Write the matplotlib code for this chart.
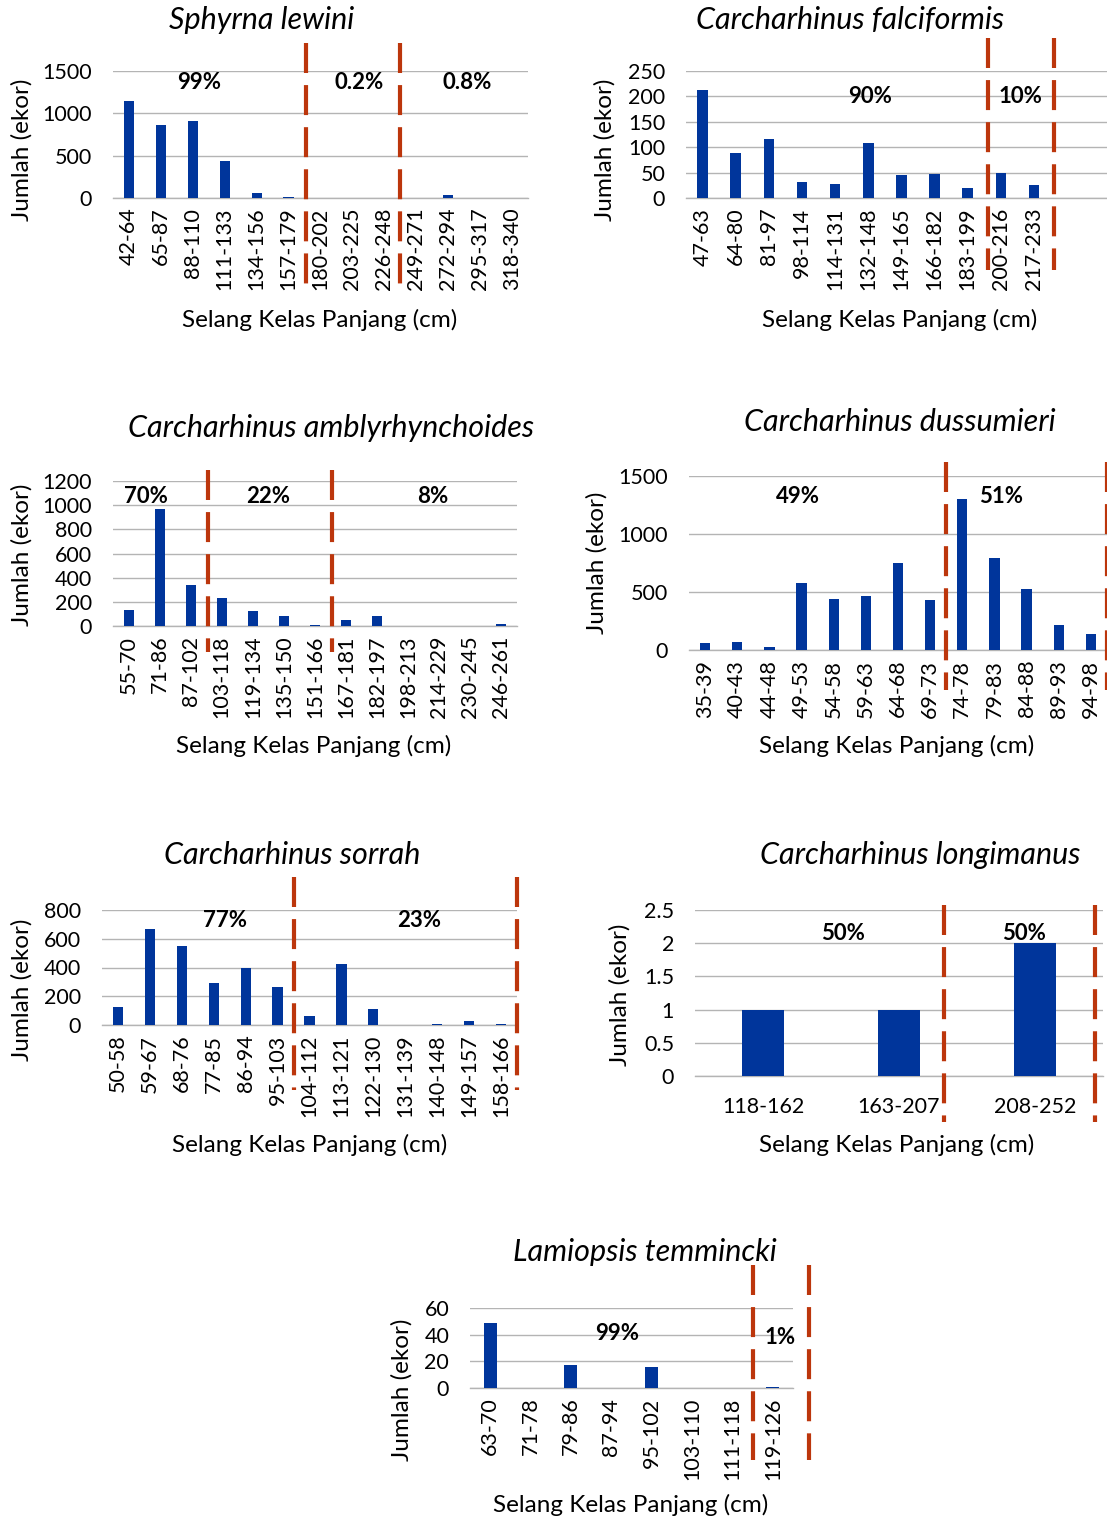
"""
Distribusi selang kelas panjang hiu (7 spesies)
"""

import numpy as np
import matplotlib
matplotlib.use('Agg')
import matplotlib.pyplot as plt
import matplotlib.transforms as mtransforms

plt.rcParams['font.family'] = ['Lato', 'DejaVu Sans']

# --- data ---------------------------------------------------------------
lewini_cls = ['42-64', '65-87', '88-110', '111-133', '134-156', '157-179', '180-202',
              '203-225', '226-248', '249-271', '272-294', '295-317', '318-340']
lewini_n = [1140, 865, 915, 437, 60, 12, 3, 2, 0, 0, 32, 0, 2]

falci_cls = ['47-63', '64-80', '81-97', '98-114', '114-131', '132-148', '149-165',
             '166-182', '183-199', '200-216', '217-233']
falci_n = [212, 89, 116, 31, 28, 108, 45, 48, 19, 50, 25]

ambly_cls = ['55-70', '71-86', '87-102', '103-118', '119-134', '135-150', '151-166',
             '167-181', '182-197', '198-213', '214-229', '230-245', '246-261']
ambly_n = [130, 972, 339, 233, 122, 80, 11, 47, 80, 0, 0, 0, 19]

duss_cls = ['35-39', '40-43', '44-48', '49-53', '54-58', '59-63', '64-68',
            '69-73', '74-78', '79-83', '84-88', '89-93', '94-98']
duss_n = [57, 66, 29, 577, 437, 463, 751, 429, 1306, 797, 526, 217, 140]

sorrah_cls = ['50-58', '59-67', '68-76', '77-85', '86-94', '95-103', '104-112',
              '113-121', '122-130', '131-139', '140-148', '149-157', '158-166']
sorrah_n = [124, 665, 548, 292, 399, 264, 65, 427, 112, 0, 5, 30, 5]

longi_cls = ['118-162', '163-207', '208-252']
longi_n = [1, 1, 2]

lamio_cls = ['63-70', '71-78', '79-86', '87-94', '95-102', '103-110', '111-118', '119-126']
lamio_n = [49, 0, 17, 0, 16, 0, 0, 0.7]

# persentase tiap kelompok
lewini_pct = ['99%', '0.2%', '0.8%']
falci_pct = ['90%', '10%']
ambly_pct = ['70%', '22%', '8%']
duss_pct = ['49%', '51%']
sorrah_pct = ['77%', '23%']
longi_pct = ['50%', '50%']
lamio_pct = ['99%', '1%']

# --- layout (piksel) ----------------------------------------------------
W, H = 1107, 1519
BAR = '#00359B'
RED = '#BC360C'
GRID = '#B4B4B4'

fig = plt.figure(figsize=(W / 100, H / 100), dpi=100)


def px_axes(left, top, right, bottom):
    return fig.add_axes([left / W, 1 - bottom / H, (right - left) / W, (bottom - top) / H])


def ftext(x, y, s, **kw):
    fig.text(x / W, 1 - y / H, s, ha='center', va='center', **kw)


def panel(box, cls, vals, yticks, ymax, xlim, title, title_xy, xlab_xy, ylab_xy,
          cuts, cut_span, pcts, pct_xy, width=0.32, rot=90):
    ax = px_axes(*box)
    x = np.arange(len(cls))
    ax.bar(x, vals, width=width, color=BAR, zorder=3)
    ax.set_xlim(*xlim)
    ax.set_ylim(0, ymax)
    ax.set_yticks(yticks)
    ax.set_yticklabels([('%g' % t) for t in yticks])
    ax.set_xticks(x)
    ax.set_xticklabels(cls, rotation=rot)
    ax.tick_params(axis='y', length=0, pad=15, labelsize=15.5)
    ax.tick_params(axis='x', length=0, pad=7 if rot else 15, labelsize=15.5)
    for s in ['top', 'right', 'left']:
        ax.spines[s].set_visible(False)
    ax.spines['bottom'].set_color(GRID)
    ax.spines['bottom'].set_linewidth(1.0)
    ax.grid(axis='y', color=GRID, linewidth=1.0, zorder=0)
    ax.set_axisbelow(True)

    # garis putus-putus pembatas kelompok
    top, bottom = box[1], box[3]
    y0 = (bottom - cut_span[1]) / (bottom - top)
    y1 = (bottom - cut_span[0]) / (bottom - top)
    trans = mtransforms.blended_transform_factory(ax.transData, ax.transAxes)
    for c in cuts:
        ax.plot([c, c], [y1, y0], transform=trans, color=RED, lw=3,
                dashes=(7.2, 2.9), clip_on=False, zorder=5, solid_capstyle='butt')

    for s, (px, py) in zip(pcts, pct_xy):
        ax.text(px, py, s, ha='center', va='center', fontsize=16,
                fontweight='bold', zorder=6)

    ftext(*title_xy, title, fontsize=22, style='italic')
    ftext(*xlab_xy, 'Selang Kelas Panjang (cm)', fontsize=17.5)
    ftext(*ylab_xy, 'Jumlah (ekor)', fontsize=17.5, rotation=90)
    return ax


panel((113, 71, 528, 198), lewini_cls, lewini_n, [0, 500, 1000, 1500], 1500,
      (-0.5, 12.5), 'Sphyrna lewini', (262, 20), (320, 320), (22, 150),
      [5.55, 8.5], (43, 285), lewini_pct, [(2.2, 1370), (7.2, 1370), (10.6, 1370)])

panel((686, 71, 1107, 198), falci_cls, falci_n, [0, 50, 100, 150, 200, 250], 250,
      (-0.5, 12.2), 'Carcharhinus falciformis', (850, 20), (900, 320), (605, 150),
      [8.6, 10.6], (38, 270), falci_pct, [(5.05, 200), (9.6, 200)])

panel((113, 481, 517, 626), ambly_cls, ambly_n, [0, 200, 400, 600, 800, 1000, 1200], 1200,
      (-0.5, 12.5), 'Carcharhinus amblyrhynchoides', (331, 428), (314, 746), (22, 555),
      [2.55, 6.55], (470, 652), ambly_pct, [(0.55, 1068), (4.5, 1068), (9.8, 1068)])

panel((689, 476, 1107, 650), duss_cls, duss_n, [0, 500, 1000, 1500], 1500,
      (-0.5, 12.5), 'Carcharhinus dussumieri', (900, 422), (897, 746), (597, 563),
      [7.5, 12.5], (462, 690), duss_pct, [(2.9, 1320), (9.2, 1320)])

panel((102, 910, 517, 1025), sorrah_cls, sorrah_n, [0, 200, 400, 600, 800], 800,
      (-0.5, 12.5), 'Carcharhinus sorrah', (292, 855), (310, 1145), (22, 990),
      [5.5, 12.5], (877, 1090), sorrah_pct, [(3.36, 730), (9.43, 730)])

panel((695, 910, 1103, 1076), longi_cls, longi_n, [0, 0.5, 1, 1.5, 2, 2.5], 2.5,
      (-0.5, 2.5), 'Carcharhinus longimanus', (920, 855), (897, 1145), (620, 995),
      [1.33, 2.44], (905, 1122), longi_pct, [(0.59, 2.14), (1.92, 2.14)],
      width=0.315, rot=0)

panel((470, 1308, 793, 1388), lamio_cls, lamio_n, [0, 20, 40, 60], 60,
      (-0.5, 7.5), 'Lamiopsis temmincki', (645, 1252), (631, 1505), (402, 1390),
      [6.5, 7.9], (1265, 1460), lamio_pct, [(3.14, 40.5), (7.18, 38)])

fig.savefig('out.png', dpi=100)
